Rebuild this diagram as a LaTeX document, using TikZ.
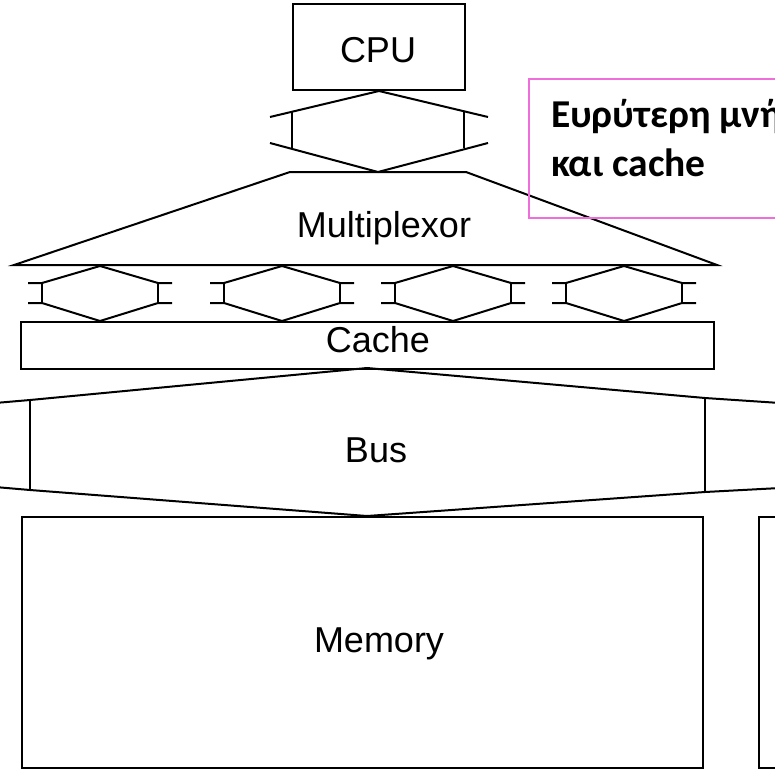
\documentclass[tikz,border=0pt]{standalone}
\usepackage{fontspec}
\setmainfont{Liberation Sans}
\newfontfamily\greekfont{Carlito}
\begin{document}
\begin{tikzpicture}[x=1pt,y=-1pt, line width=2pt, line join=miter,
  box/.style={draw, rectangle, inner sep=0pt, anchor=north west},
  lbl/.style={anchor=base, inner sep=0pt, font=\fontsize{36}{40}\selectfont},
  note/.style={anchor=base west, inner sep=0pt, font=\greekfont\bfseries\fontsize{39.5}{44}\selectfont}]
\useasboundingbox (0,0) rectangle (775,768);
\clip (0,0) rectangle (775,768);
\fill[white] (0,0) rectangle (775,768);

% CPU
\node[box, minimum width=172pt, minimum height=86pt] (cpu) at (292,3) {};
\node[lbl] (cpulbl) at (378,62) {CPU};

% top connector between CPU and multiplexor
\coordinate (muxtop) at (378,172);
\draw (270,117) -- (cpu.south) -- (488,117);
\draw (270,143) -- (muxtop) -- (488,143);
\draw (292,111) -- (292,148);
\draw (464,111) -- (464,148);

% multiplexor trapezoid
\draw (290,172) -- (466,172) -- (717,265) -- (14,265) -- cycle;
\node[lbl] (muxlbl) at (384,237) {Multiplexor};

% cache
\node[box, minimum width=693pt, minimum height=47pt] (cache) at (20,321) {};
\node[lbl] (cachelbl) at (378,352) {Cache};

% four small connectors between multiplexor and cache
\foreach \cx/\n in {100/a,282/b,453/c,624/d} {
  \coordinate (t\n) at (\cx,266);
  \coordinate (b\n) at (\cx,321);
  \draw (\cx-72,283) -- (\cx-58,283) -- (t\n) -- (\cx+58,283) -- (\cx+72,283);
  \draw (\cx-72,303) -- (\cx-58,303) -- (b\n) -- (\cx+58,303) -- (\cx+72,303);
  \draw (\cx-58,283) -- (\cx-58,303);
  \draw (\cx+58,283) -- (\cx+58,303);
}

% memory
\node[box, minimum width=681pt, minimum height=251pt] (mem) at (21,516) {};
\node[lbl] (memlbl) at (379,652) {Memory};
\node[box, minimum width=60pt, minimum height=251pt] (mem2) at (758,516) {};

% bus
\coordinate (bustop) at (367,368);
\coordinate (busbot) at (367,516);
\draw (-5,403) -- (30,400) -- (bustop) -- (705,398) -- (780,403);
\draw (-5,487) -- (30,490) -- (busbot) -- (705,492) -- (780,488);
\draw (30,400) -- (30,490);
\draw (705,398) -- (705,492);
\node[lbl] (buslbl) at (376,462) {Bus};

% annotation box
\node[draw={rgb,255:red,240;green,110;blue,220}, line width=1.5pt, anchor=north west,
      minimum width=280pt, minimum height=139pt, inner sep=0pt] (annot) at (528,78) {};
\node[note] (ann1) at (550,127) {Ευρύτερη μνή};
\node[note] (ann2) at (550,176) {και cache};
\end{tikzpicture}
\end{document}
